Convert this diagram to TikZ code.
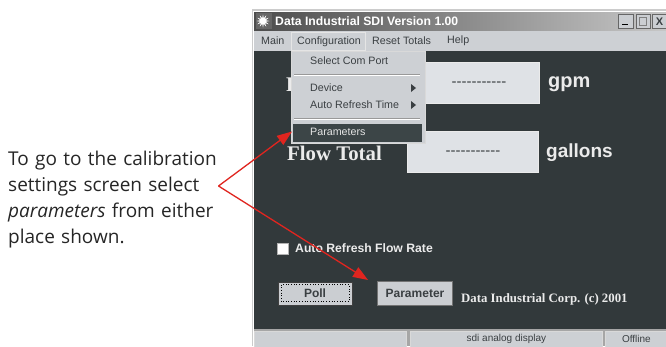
\documentclass[tikz,border=0pt]{standalone}
\usepackage{fontspec}
\setmainfont{Open Sans}
\newfontfamily\uifont{Liberation Sans}
\newfontfamily\uiserif{Liberation Serif}
\usetikzlibrary{arrows.meta,shapes.geometric}
\definecolor{winbg}{HTML}{32393B}
\definecolor{menubg}{HTML}{CDD0D4}
\definecolor{fieldbg}{HTML}{DFE2E6}
\definecolor{btnbg}{HTML}{CBCED2}
\definecolor{redline}{HTML}{E0251F}
\definecolor{uitext}{HTML}{3A3F42}
\definecolor{hilite}{HTML}{3C4547}
\tikzset{
  x=1pt,y=-1pt,
  panel/.style={draw=#1,line width=0.8pt,fill=menubg,inner sep=0pt,minimum height=0},
  field/.style={draw=white!92!black,line width=1.2pt,fill=fieldbg,anchor=north west,inner sep=0pt},
  uibtn/.style={draw=#1,line width=1pt,fill=btnbg,anchor=north west,inner sep=0pt,font=\uifont\bfseries\fontsize{12}{13}\selectfont,text=uitext},
  uilabel/.style={anchor=west,inner sep=0pt,text=uitext,font=\uifont\fontsize{10.7}{12}\selectfont},
  dashlabel/.style={text=uitext,inner sep=0pt,font=\uifont\fontsize{15}{15}\selectfont},
  lightlabel/.style={anchor=west,inner sep=0pt,text=white!92!black,font=\uifont\bfseries\fontsize{#1}{#1}\selectfont},
  seriflabel/.style={anchor=west,inner sep=0pt,text=white!92!black,font=\uiserif\bfseries\fontsize{#1}{#1}\selectfont},
  note/.style={anchor=north west,inner sep=0pt,align=left,text=black!85,text width=225pt,font=\fontsize{19}{25.8}\selectfont},
  callout/.style={draw=redline,line width=1.3pt},
  tipped/.style={callout,-{Triangle[length=15pt,width=11pt]}},
}
\begin{document}
\begin{tikzpicture}
\useasboundingbox (0,0) rectangle (666,346);
\fill[white] (0,0) rectangle (666,346);
% window
\fill[black!20] (251.5,9) rectangle (666,346);
\fill[white] (253,11) rectangle (666,346);
\fill[winbg] (254,12) rectangle (666,346);
\shade[left color=black!70,right color=black!22] (254,12) rectangle (666,30);
\fill[menubg] (254,31) rectangle (666,51);
% title bar
\fill[black!60] (256,13) rectangle (272,29);
\node[star,star points=12,star point ratio=2.2,fill=white,inner sep=0pt,minimum size=13pt] (logo) at (263,21) {};
\node[anchor=west,inner sep=0pt,text=white,font=\uifont\bfseries\fontsize{12.2}{12}\selectfont] (title) at (275,21) {Data Industrial SDI Version 1.00};
\node[uibtn=black!60,minimum width=15pt,minimum height=14pt] (minb) at (618,14) {};
\node[uibtn=black!60,minimum width=14pt,minimum height=14pt] (maxb) at (636,14) {};
\node[uibtn=black!60,minimum width=14pt,minimum height=14pt] (closeb) at (652,14) {\fontsize{11}{10}\selectfont X};
\draw[black,line width=1.2pt] (622,24.5) -- (628,24.5);
\draw[black!50,line width=0.8pt] (639.5,17.5) rectangle (646.5,25);
% menu bar
\node[uilabel] (mmain) at (261,41) {Main};
\draw[white!90!black,line width=.7pt,fill=menubg] (291,32) rectangle (365,50);
\node[uilabel] (mconf) at (297,42) {Configuration};
\node[uilabel] (mreset) at (372,41) {Reset Totals};
\node[uilabel] (mhelp) at (447,41) {Help};
% display
\node[seriflabel=20.8] (flowr) at (286,85) {F};
\node[field,minimum width=116pt,minimum height=41pt] (gpmf) at (423,62) {};
\node[dashlabel] (gpmd) at (479,84) {-----------};
\node[lightlabel=20] (gpm) at (548,84) {gpm};
\node[seriflabel=20.8] (flowt) at (287,153) {Flow Total};
\node[field,minimum width=131pt,minimum height=41pt] (galf) at (407,131) {};
\node[dashlabel] (gald) at (473,153) {-----------};
\node[lightlabel=19] (gal) at (546,152.5) {gallons};
% menu
\node[panel=white!85!black,anchor=north west,minimum width=134pt,minimum height=92pt] (menu) at (290.5,51) {};
\node[uilabel] (isel) at (310,61) {Select Com Port};
\draw[black!40] (294,74) -- (420,74);
\draw[white] (294,75) -- (420,75);
\node[uilabel] (idev) at (310,88) {Device};
\node[uilabel] (iauto) at (310,105) {Auto Refresh Time};
\fill[uitext] (411,84) -- (416,88) -- (411,92) -- cycle;
\fill[uitext] (411,101) -- (416,105) -- (411,109) -- cycle;
\draw[black!40] (294,118) -- (420,118);
\draw[white] (294,119) -- (420,119);
\node[fill=hilite,anchor=north west,minimum width=129pt,minimum height=18pt,inner sep=0pt] (iparam) at (293,123.5) {};
\node[uilabel,text=white!90!black] (iparamt) at (310,132) {Parameters};
% lower controls
\node[draw=black!30,fill=white,line width=1pt,minimum width=11pt,minimum height=11pt,inner sep=0pt,anchor=north west] (chk) at (277,243) {};
\node[lightlabel=12.2] (auto) at (295,248) {Auto Refresh Flow Rate};
\node[uibtn=black!75,minimum width=74pt,minimum height=23pt] (poll) at (277.5,281.5) {Poll};
\draw[black,dotted,line width=.7pt] (281,284.5) rectangle (349,301.5);
\node[uibtn=black!55,minimum width=75pt,minimum height=24.5pt] (param) at (377,280.5) {Parameter};
\node[seriflabel=12.8] (corp) at (461,299) {Data Industrial Corp. (c) 2001};
% status bar
\fill[black!35] (254,329) rectangle (666,346);
\node[panel=white!85!black,anchor=north west,minimum width=152pt,minimum height=17pt] (s1) at (254,330.5) {};
\node[panel=white!85!black,anchor=north west,minimum width=192pt,minimum height=17pt] (s2) at (410,330.5) {\uifont\fontsize{10}{12}\selectfont\textcolor{uitext}{sdi analog display}};
\node[panel=white!85!black,anchor=north west,minimum width=62pt,minimum height=17pt] (s3) at (605,330.5) {\uifont\fontsize{10}{12}\selectfont\textcolor{uitext}{Offline}};
% note
\node[note] (txt) at (8,151) {To go to the calibration\\settings screen select\\\textit{parameters} from either\\place shown.};
\coordinate (apex) at (218.5,186);
\coordinate (tipa) at (292,131.5);
\coordinate (tipb) at (368,280);
\draw[tipped] (apex) -- (tipa);
\draw[tipped] (apex) -- (tipb);
\end{tikzpicture}
\end{document}
